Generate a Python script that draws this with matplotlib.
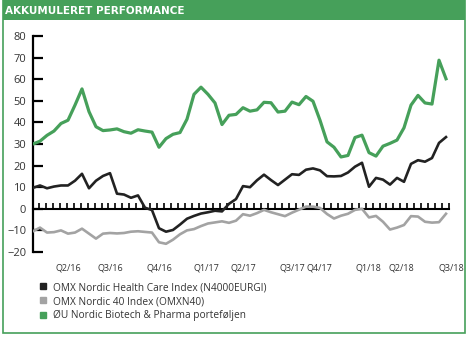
import numpy as np
import matplotlib.pyplot as plt
from matplotlib.lines import Line2D
from matplotlib.patches import Rectangle

# Accumulated performance (%), biweekly observations
health_care = [9.7, 10.8, 9.5, 10.3, 10.8, 10.8, 13.0, 16.2, 9.5, 13.0,
               15.2, 16.5, 7.0, 6.6, 5.1, 6.2, 0.5, -0.6, -9.0, -10.6,
               -9.8, -7.3, -4.6, -3.3, -2.2, -1.6, -0.9, -1.2, 2.3, 4.5,
               10.5, 10.0, 13.2, 15.8, 13.3, 11.0, 13.5, 16.0, 15.7, 18.1,
               18.7, 17.8, 15.1, 15.0, 15.2, 16.8, 19.5, 21.3, 10.2, 14.3,
               13.5, 11.2, 14.3, 12.5, 20.8, 22.5, 21.8, 23.5, 30.5, 33.2]
omxn40 = [-10.4, -8.7, -11.0, -10.8, -10.0, -11.5, -11.0, -9.2, -11.5, -13.8,
          -11.5, -11.2, -11.4, -11.2, -10.6, -10.4, -10.7, -11.0, -15.5, -16.2,
          -14.3, -11.8, -10.0, -9.4, -8.0, -6.8, -6.3, -5.8, -6.5, -5.5,
          -2.5, -3.2, -2.0, -0.5, -1.6, -2.5, -3.4, -1.8, -0.4, 1.0,
          1.0, 0.4, -2.4, -4.5, -3.2, -2.3, -0.5, 0.0, -4.0, -3.3,
          -6.0, -9.6, -8.7, -7.5, -3.4, -3.6, -6.0, -6.4, -6.2, -2.3]
portfolio = [30.0, 31.3, 34.0, 36.0, 39.5, 41.0, 48.0, 55.5, 45.0, 38.0,
             36.2, 36.5, 37.0, 35.7, 35.0, 36.6, 36.0, 35.5, 28.5, 32.5,
             34.5, 35.3, 41.5, 53.0, 56.3, 53.0, 49.0, 39.0, 43.3, 43.7,
             46.8, 45.2, 45.8, 49.3, 49.1, 44.8, 45.2, 49.4, 48.2, 52.0,
             49.8, 41.0, 31.0, 28.5, 24.0, 24.7, 33.0, 34.1, 26.0, 24.4,
             29.0, 30.3, 31.8, 37.5, 48.0, 52.5, 49.0, 48.5, 68.8, 60.2]

quarter_labels = ["Q2/16", "Q3/16", "Q4/16", "Q1/17", "Q2/17",
                  "Q3/17", "Q4/17", "Q1/18", "Q2/18", "Q3/18"]
quarter_pos = [5.0, 11.1, 18.0, 24.7, 30.0, 37.0, 40.9, 47.9, 52.6, 59.7]

series_names = ["OMX Nordic Health Care Index (N4000EURGI)",
                "OMX Nordic 40 Index (OMXN40)",
                "ØU Nordic Biotech & Pharma porteføljen"]

GREEN = "#46a05a"
GRAY = "#a3a3a3"
BLACK = "#222222"
TEXT = "#333333"

plt.rcParams["font.family"] = ["Open Sans", "DejaVu Sans"]

W, H = 471, 338
fig = plt.figure(figsize=(W / 100, H / 100), dpi=100)

# frame and title bar
fig.patches.append(Rectangle((2.5 / W, 5 / H), 462 / W, 333 / H,
                             transform=fig.transFigure, fill=False,
                             edgecolor=GREEN, linewidth=1.2))
fig.patches.append(Rectangle((2.5 / W, (H - 20) / H), 462 / W, 20 / H,
                             transform=fig.transFigure, facecolor=GREEN,
                             edgecolor="none"))
fig.text(5 / W, (H - 10.5) / H, "AKKUMULERET PERFORMANCE", color="white",
         fontsize=7.5, fontweight="bold", va="center", ha="left",
         family=["Liberation Sans Narrow", "DejaVu Sans"])

ax = fig.add_axes([32.5 / W, 86 / H, 417 / W, 216 / H])
x = np.arange(len(portfolio))
ax.plot(x, omxn40, color=GRAY, lw=1.9, solid_joinstyle="round", zorder=3)
ax.plot(x, health_care, color=BLACK, lw=1.9, solid_joinstyle="round", zorder=4)
ax.plot(x, portfolio, color=GREEN, lw=2.3, solid_joinstyle="round", zorder=5)

ax.set_xlim(-0.07, 59.5)
ax.set_ylim(-20, 80)
ax.set_yticks(range(-20, 81, 10))
ax.tick_params(axis="y", direction="in", length=7, width=1.6, pad=4.5,
               labelsize=8, labelcolor=TEXT)
ax.spines["left"].set_linewidth(1.6)
for s in ["top", "right"]:
    ax.spines[s].set_visible(False)

# zero line carries the period ticks
ax.spines["bottom"].set_position(("data", 0))
ax.spines["bottom"].set_linewidth(1.5)
ax.set_xticks(np.linspace(0.857, 59.43, 60))
ax.tick_params(axis="x", direction="in", length=4.5, width=1.2,
               labelbottom=False)
ax.get_xticklines()[4 * 2].set_color(GREEN)

# quarter labels below the plot (last one sits past the final tick)
for pos, lab in zip(quarter_pos, quarter_labels):
    ax.text(pos, -0.075, lab, transform=ax.get_xaxis_transform(),
            ha="center", va="center", fontsize=6.5, color=TEXT,
            clip_on=False)

handles = [Line2D([], [], marker="s", ls="none", color=c, markersize=5)
           for c in (BLACK, GRAY, GREEN)]
fig.legend(handles, series_names, loc="upper left",
           bbox_to_anchor=(38 / W, (H - 282) / H), frameon=False,
           borderpad=0, borderaxespad=0, handlelength=1.0, handletextpad=0.5,
           labelspacing=0.3, fontsize=7.3, labelcolor=TEXT)

fig.savefig("out.png", dpi=100)
